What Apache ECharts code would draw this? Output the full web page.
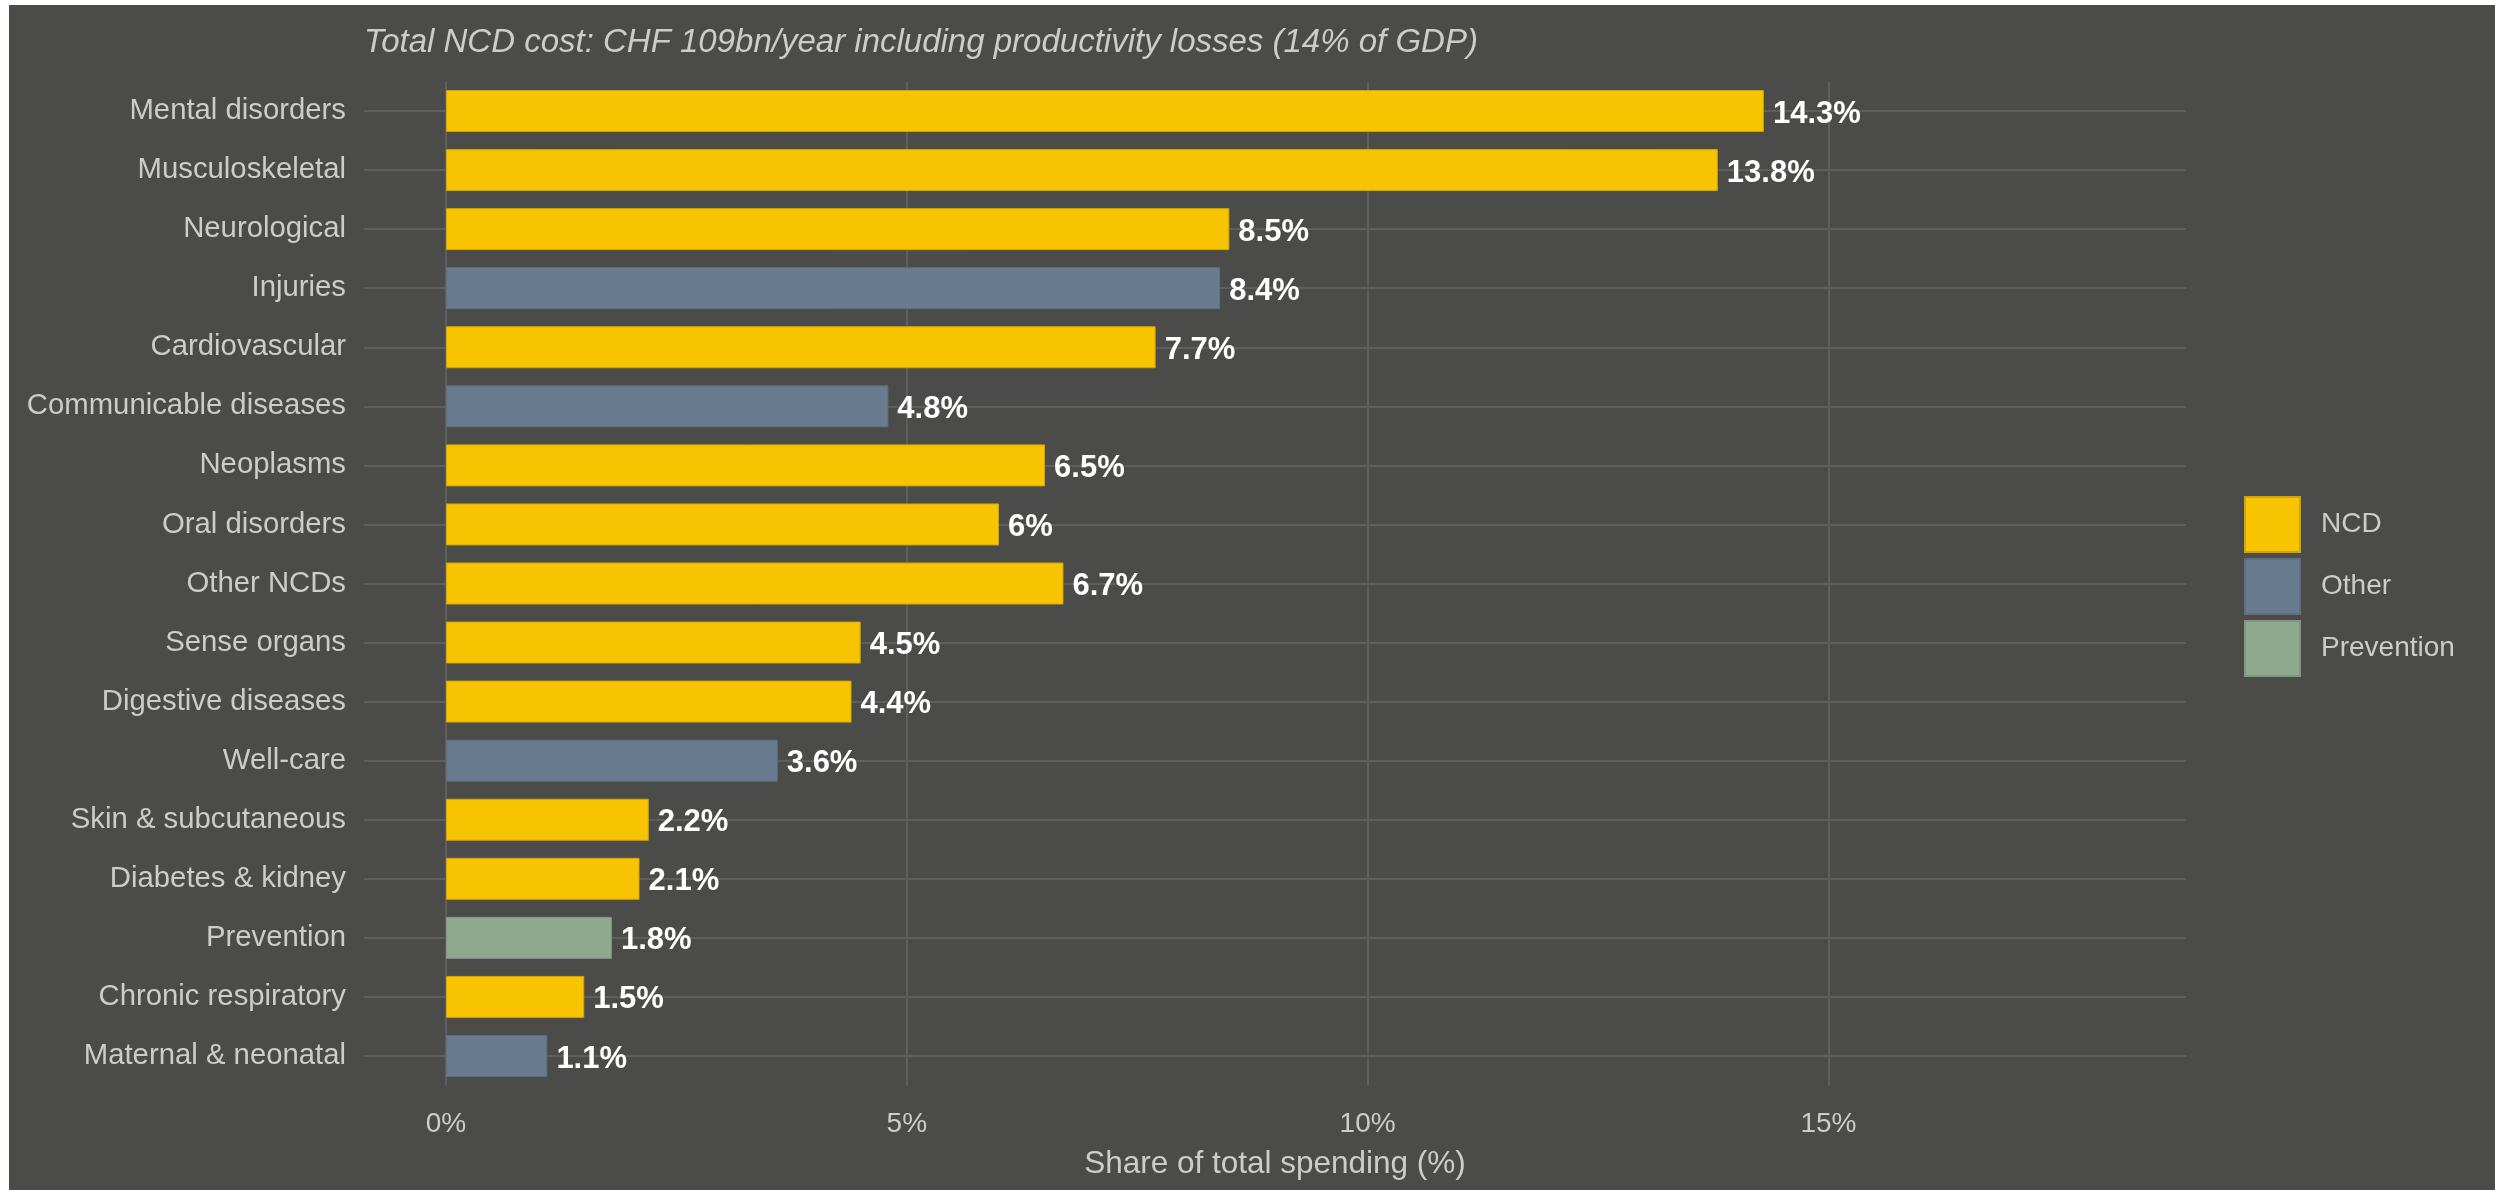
<!DOCTYPE html>
<html>
<head>
<meta charset="utf-8">
<script src="https://cdn.jsdelivr.net/npm/echarts@6/dist/echarts.min.js"></script>
<style>
  html, body { margin: 0; padding: 0; background: #ffffff; }
  #bg { position: absolute; left: 9px; top: 5px; width: 2486px; height: 1185px; background: #4B4B49; }
  #chart { position: absolute; left: 0; top: 0; width: 2495px; height: 1190px; }
</style>
</head>
<body>
<div id="bg"></div>
<div id="chart"></div>
<script>
const categories = ['Mental disorders','Musculoskeletal','Neurological','Injuries','Cardiovascular',
  'Communicable diseases','Neoplasms','Oral disorders','Other NCDs','Sense organs','Digestive diseases',
  'Well-care','Skin & subcutaneous','Diabetes & kidney','Prevention','Chronic respiratory','Maternal & neonatal'];
const values = [14.3,13.8,8.5,8.4,7.7,4.8,6.5,6,6.7,4.5,4.4,3.6,2.2,2.1,1.8,1.5,1.1];
const groups = ['NCD','NCD','NCD','Other','NCD','Other','NCD','NCD','NCD','NCD','NCD','Other','NCD','NCD','Prevention','NCD','Other'];
const groupNames = ['NCD','Other','Prevention'];
const groupColors = {NCD: '#F8C300', Other: '#687B8F', Prevention: '#8FA98F'};
const groupBorders = {NCD: '#D2A600', Other: '#5E6F80', Prevention: '#809881'};
const xTicks = [0, 5, 10, 15];
const titleText = 'Total NCD cost: CHF 109bn/year including productivity losses (14% of GDP)';
const xAxisTitle = 'Share of total spending (%)';

const FONT = '"Liberation Sans", Arial, sans-serif';
const TEXT = '#CCCCCC';
const GRID = '#5E5E5E';

const series = groupNames.map(g => ({
  name: g,
  type: 'bar',
  stack: 'all',
  yAxisIndex: 0,
  barWidth: 42,
  itemStyle: { color: groupColors[g], borderColor: groupBorders[g], borderWidth: 1 },
  label: {
    show: true, position: 'right', distance: 9, offset: [0, 3],
    color: '#FFFFFF', fontWeight: 'bold', fontSize: 31, fontFamily: FONT,
    formatter: p => p.value + '%'
  },
  data: values.map((v, i) => groups[i] === g ? v : '-')
}));

const chart = echarts.init(document.getElementById('chart'), null, {renderer: 'canvas'});
chart.setOption({
  backgroundColor: 'transparent',
  animation: false,
  title: {
    text: titleText, left: 364, top: 26, padding: 0,
    textStyle: { color: TEXT, fontStyle: 'italic', fontWeight: 'normal', fontSize: 33, fontFamily: FONT }
  },
  legend: {
    data: groupNames, orient: 'vertical', left: 2244, top: 496, padding: 0,
    itemWidth: 55, itemHeight: 55, itemGap: 5, icon: 'rect',
    textStyle: { color: TEXT, fontSize: 28, fontFamily: FONT, padding: [0, 0, 0, 16] }
  },
  grid: { left: 446, right: 309, top: 81.5, bottom: 104.5, containLabel: false },
  xAxis: {
    type: 'value', min: 0, max: 18.88, interval: 5,
    axisLine: { show: false }, axisTick: { show: false },
    axisLabel: {
      color: TEXT, fontSize: 28, fontFamily: FONT, margin: 25,
      formatter: v => (xTicks.indexOf(v) >= 0 ? v + '%' : '')
    },
    splitLine: { show: true, lineStyle: { color: [GRID, GRID, GRID, GRID, 'transparent'], width: 2 } },
    name: xAxisTitle, nameLocation: 'middle', nameGap: 63,
    nameTextStyle: { color: TEXT, fontSize: 31.5, fontFamily: FONT, padding: [0, 82, 0, 0] }
  },
  yAxis: [
    {
      type: 'category', data: categories, inverse: true,
      axisLine: { show: false },
      axisTick: { show: true, inside: false, length: 82, alignWithLabel: true, lineStyle: { color: GRID, width: 2 } },
      axisLabel: { color: TEXT, fontSize: 29.3, fontFamily: FONT, margin: 100 },
      splitLine: { show: false }
    },
    {
      type: 'category', data: categories, inverse: true, position: 'left',
      axisLine: { show: false },
      axisTick: { show: true, inside: true, length: 1740, alignWithLabel: true, lineStyle: { color: GRID, width: 2 } },
      axisLabel: { show: false },
      splitLine: { show: false }
    }
  ],
  series: series
});
</script>
</body>
</html>
